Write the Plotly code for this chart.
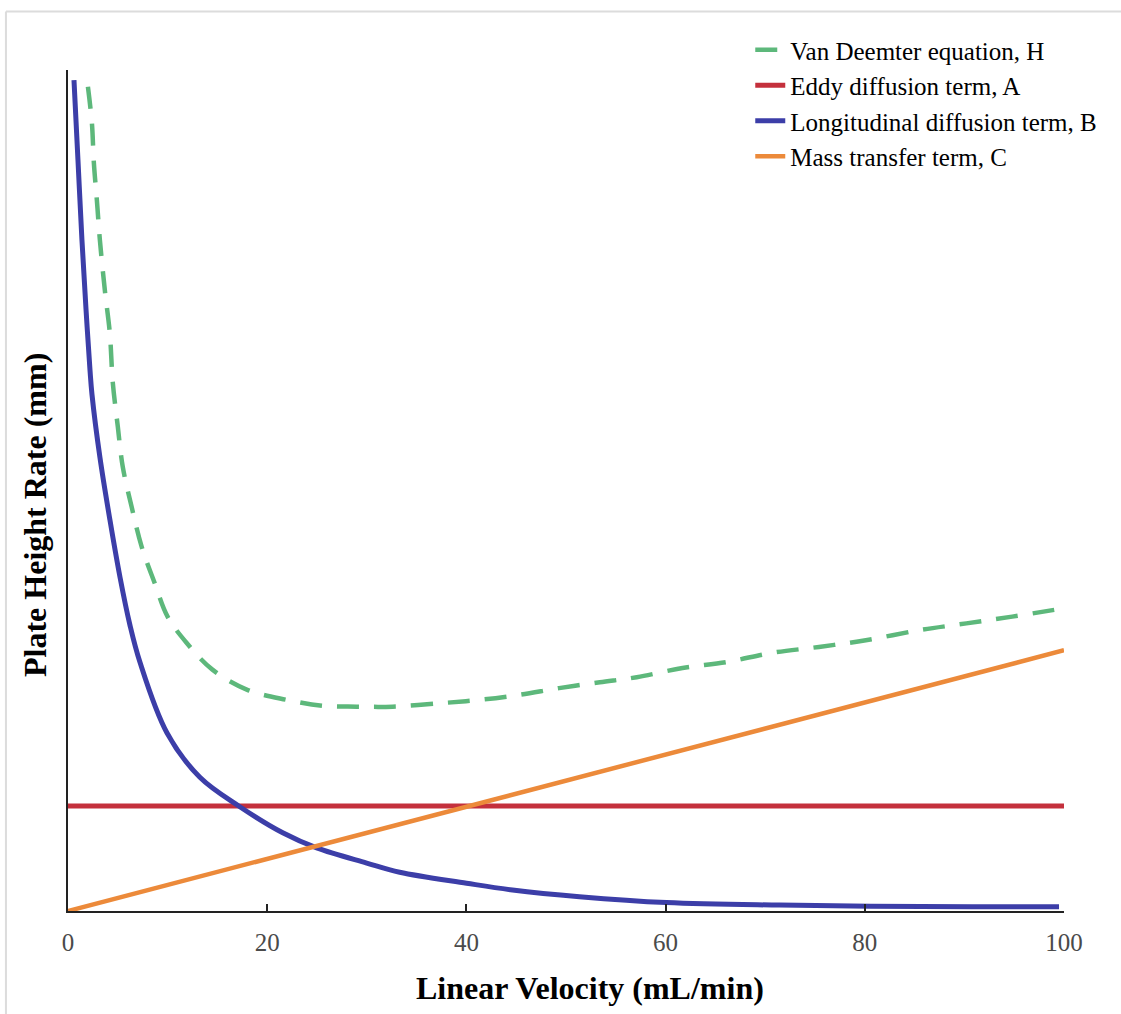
import plotly.graph_objects as go

h_u = [2.0, 2.4, 2.6, 2.9, 3.2, 3.7, 4.2, 4.5, 5.0, 5.5, 6.4, 7.4, 8.7, 10.0, 11.9, 14.5, 18.0,
       22.0, 25.6, 29.0, 32.6, 37.3, 41.3, 45.3, 49.3, 53.4, 57.1, 61.7, 66.1, 70.7, 75.4, 80.1,
       85.5, 90.2, 94.8, 100.0]
h_val = [9.80, 9.37, 8.89, 8.45, 7.98, 7.38, 6.87, 6.28, 5.76, 5.28, 4.80, 4.33, 3.90, 3.50, 3.19,
         2.87, 2.63, 2.51, 2.44, 2.43, 2.43, 2.47, 2.51, 2.57, 2.65, 2.72, 2.78, 2.89, 2.96, 3.07,
         3.14, 3.22, 3.34, 3.42, 3.50, 3.60]

a_u = [0.0, 100.0]
a_val = [1.25, 1.25]

b_u = [0.60, 1.00, 1.40, 1.81, 2.21, 2.41, 3.21, 4.21, 5.22, 6.22, 7.22, 9.93, 13.24, 17.25,
       21.56, 24.97, 29.99, 33.30, 40.02, 44.63, 51.35, 60.08, 71.41, 90.77, 99.50]
b_val = [9.88, 8.93, 7.98, 7.15, 6.43, 6.14, 5.39, 4.65, 3.97, 3.40, 2.96, 2.12, 1.59, 1.24,
         0.93, 0.75, 0.57, 0.46, 0.33, 0.25, 0.17, 0.10, 0.07, 0.05, 0.05]

c_u = [0.0, 100.0]
c_val = [0.0, 3.10]

x_ticks = [0, 20, 40, 60, 80, 100]

series_names = ["Van Deemter equation, H", "Eddy diffusion term, A",
                "Longitudinal diffusion term, B", "Mass transfer term, C"]

fig = go.Figure()
fig.add_trace(go.Scatter(x=h_u, y=h_val, mode="lines", name=series_names[0], line_shape="spline",
                         line=dict(color="#5db87b", width=4.5, dash="22px,15px")))
fig.add_trace(go.Scatter(x=a_u, y=a_val, mode="lines", name=series_names[1],
                         line=dict(color="#c4303c", width=5)))
fig.add_trace(go.Scatter(x=b_u, y=b_val, mode="lines", name=series_names[2], line_shape="spline",
                         line=dict(color="#3c3ea8", width=5)))
fig.add_trace(go.Scatter(x=c_u, y=c_val, mode="lines", name=series_names[3],
                         line=dict(color="#ec8a3a", width=4.5)))

fig.update_layout(
    width=1121, height=1014,
    margin=dict(l=68, r=57, t=70, b=103),
    paper_bgcolor="white", plot_bgcolor="white",
    font=dict(family="Liberation Serif", color="black"),
    showlegend=True,
    legend=dict(x=0.685, y=1.051, xanchor="left", yanchor="top",
                font=dict(family="Liberation Serif", size=25, color="black"),
                bgcolor="rgba(0,0,0,0)", borderwidth=0),
    xaxis=dict(range=[0, 100], tickvals=x_ticks, ticktext=[str(t) for t in x_ticks],
               showgrid=False, zeroline=False, showline=True, linecolor="#222", linewidth=2,
               ticks="inside", ticklen=7, tickwidth=1.5, tickcolor="#222",
               ticklabelstandoff=8,
               tickfont=dict(family="Liberation Serif", size=25, color="#4a4a4a")),
    yaxis=dict(range=[0, 10], showgrid=False, zeroline=False, showline=True, linecolor="#222",
               linewidth=2, showticklabels=False, ticks=""),
    annotations=[
        dict(text="<b>Linear Velocity (mL/min)</b>", xref="paper", yref="paper",
             x=0.524, y=-0.0915, xanchor="center", yanchor="middle", showarrow=False,
             font=dict(family="Liberation Serif", size=32, color="black")),
        dict(text="<b>Plate Height Rate (mm)</b>", xref="paper", yref="paper",
             x=-0.0331, y=0.4709, xanchor="center", yanchor="middle", showarrow=False,
             textangle=-90, font=dict(family="Liberation Serif", size=32, color="black")),
    ],
    shapes=[
        dict(type="line", xref="paper", yref="paper", x0=-0.0623, x1=1.06, y0=1.0696, y1=1.0696,
             line=dict(color="#dcdcdc", width=2)),
        dict(type="line", xref="paper", yref="paper", x0=-0.0623, x1=-0.0623, y0=-0.13, y1=1.0696,
             line=dict(color="#dcdcdc", width=2)),
    ],
)

fig.write_html("out.html")
